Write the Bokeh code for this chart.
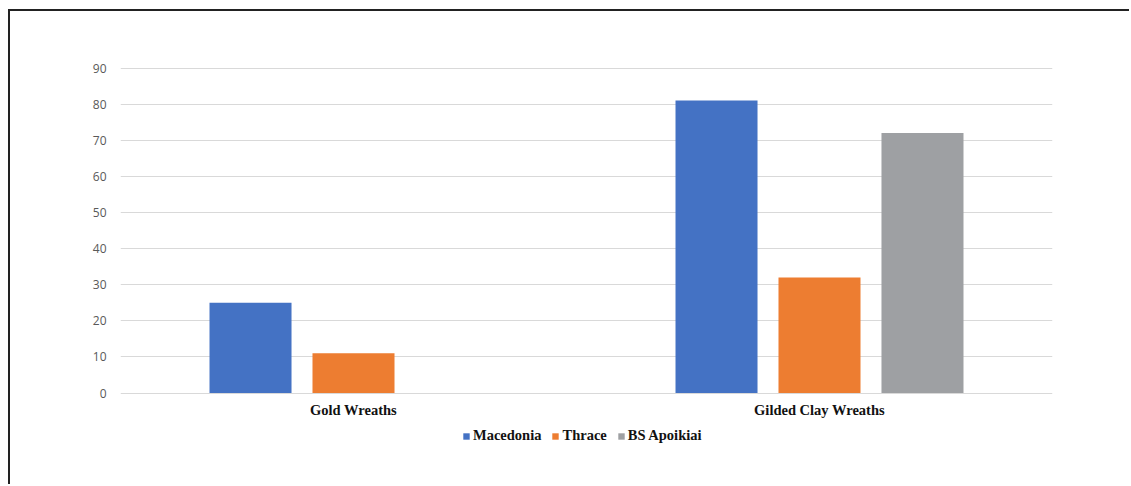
from bokeh.plotting import figure
from bokeh.models import ColumnDataSource, FactorRange, Range1d, Legend, LegendItem, FixedTicker
from bokeh.transform import dodge
from bokeh.embed import file_html
from bokeh.resources import INLINE

categories = ["Gold Wreaths", "Gilded Clay Wreaths"]
series = ["Macedonia", "Thrace", "BS Apoikiai"]
macedonia = [25, 81]
thrace = [11, 32]
bs_apoikiai = [0, 72]
y_ticks = [0, 10, 20, 30, 40, 50, 60, 70, 80, 90]
colors = ["#4472C4", "#ED7D31", "#9EA0A3"]

source = ColumnDataSource(dict(cat=categories, Macedonia=macedonia, Thrace=thrace,
                               BS=bs_apoikiai))

p = figure(x_range=FactorRange(*categories), y_range=Range1d(-17.3, 90.15),
           frame_width=932, frame_height=388, output_backend="svg", toolbar_location=None,
           min_border_left=110, min_border_right=79, min_border_top=56, min_border_bottom=31)
p.margin = (11, 0, 0, 10)
p.styles = {"box-shadow": "-2px -2px 0 #222"}

offsets = [-0.221, 0.0, 0.221]
fields = ["Macedonia", "Thrace", "BS"]
renderers = []
for f, off, c in zip(fields, offsets, colors):
    r = p.vbar(x=dodge("cat", off, range=p.x_range), top=f, width=0.176, source=source,
               fill_color=c, line_color=None)
    renderers.append(r)

p.outline_line_color = None
p.xgrid.grid_line_color = None
p.ygrid.grid_line_color = "#D9D9D9"
p.ygrid.grid_line_width = 1

p.yaxis.ticker = FixedTicker(ticks=y_ticks)
p.yaxis.axis_line_color = None
p.yaxis.major_tick_line_color = None
p.yaxis.minor_tick_line_color = None
p.yaxis.major_label_text_font = "Open Sans"
p.yaxis.major_label_text_font_size = "12px"
p.yaxis.major_label_text_color = "#595959"
p.yaxis.major_label_standoff = 8

p.xaxis.fixed_location = 0
p.xaxis.axis_line_color = None
p.xaxis.major_tick_line_color = None
p.xaxis.major_label_text_font = "Liberation Serif"
p.xaxis.major_label_text_font_style = "bold"
p.xaxis.major_label_text_font_size = "14.5px"
p.xaxis.major_label_text_color = "#111111"
p.xaxis.major_label_standoff = 3

legend = Legend(items=[LegendItem(label=s, renderers=[r]) for s, r in zip(series, renderers)],
                orientation="horizontal", location=(342, 11))
legend.label_text_font = "Liberation Serif"
legend.label_text_font_style = "bold"
legend.label_text_font_size = "14.5px"
legend.label_text_color = "#111111"
legend.glyph_width = 8
legend.glyph_height = 8
legend.label_standoff = 3
legend.spacing = 10
legend.padding = 0
legend.margin = 0
legend.label_height = 14
legend.border_line_color = None
legend.background_fill_alpha = 0
p.add_layout(legend)

open("out.html", "w").write(file_html(p, INLINE))
